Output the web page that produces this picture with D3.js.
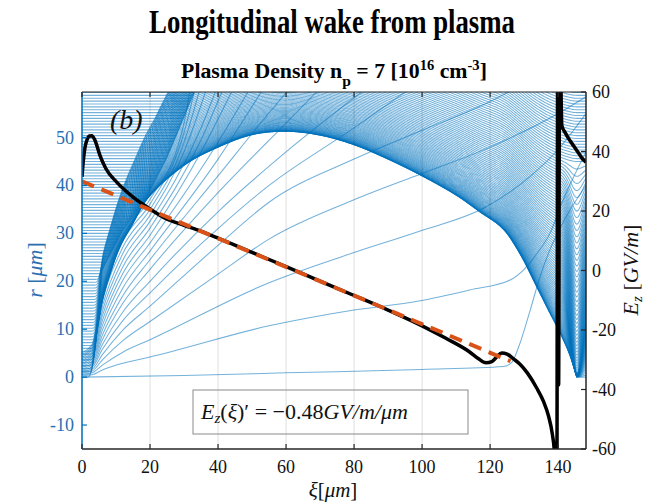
<!DOCTYPE html>
<html>
<head>
<meta charset="UTF-8">
<title>wake</title>
<script src="https://cdn.jsdelivr.net/npm/d3@7"></script>
<style>
  body { margin: 0; background: #fff; }
  text { font-family: "Liberation Serif", "Times New Roman", serif; }
</style>
</head>
<body>
<svg id="chart" width="661" height="502"></svg>
<script>
// ---- data ----
// on-axis Ez (right axis, GV/m)
const ezXi  = [0, 0.4, 0.9, 1.5, 2.2, 2.9, 3.8, 5.3, 7, 10.2, 15.1, 20, 24.9, 30, 34.7, 40, 50, 60, 70, 80, 90, 100, 107, 114, 116.5, 118.8, 120.5, 122, 123.4, 125, 127, 128.8, 131, 133.7, 135.7, 137.2, 138.3, 138.9, 139.3, 139.6, 139.9, 140.15, 140.45, 141.1, 142, 143, 144.5, 146, 147, 148.2];
const ezVal = [31.5, 37, 41.5, 44, 45.2, 45.3, 43.8, 38.6, 34.3, 29.7, 24.6, 20.7, 17.3, 15.2, 13.3, 10.9, 6.1, 1.3, -3.6, -8.4, -13.3, -18.6, -22.8, -27.4, -29.6, -31, -30.6, -29, -27.7, -28.1, -29.8, -31.5, -34.5, -39.5, -44, -49, -55, -61, -85, -85, 85, -38.5, 85, 48.7, 46.5, 44.5, 42, 39.5, 37.8, 36.4];

// linear fit of Ez
const fitXi  = [0, 126];
const fitVal = [30, -30.5];

// bubble boundary (innermost sheath electron), r in um
const boundXi = [1.5, 3, 4.5, 6, 8, 11, 14.5, 19.5, 30, 40, 50, 60, 70, 80, 90, 100, 110, 117, 124, 129, 133.7, 137.5, 140.6, 143.5, 145.5];
const boundR  = [0, 4, 10, 16, 21, 27, 31.5, 37.5, 44.2, 48, 50.6, 51.3, 50.5, 48.5, 45.5, 42, 38, 34.5, 30.8, 25.5, 18.9, 13.5, 9.2, 4.5, 0];

// where outer electrons get pushed (front band)
const onsetR  = [0, 20, 30, 37.5, 45, 50, 62];
const onsetXi = [1.5, 3.5, 11, 18.5, 24, 27, 34];

// initial radii of sheath electrons
const layerR0 = d3.range(0, 60, 0.6);

// electrons crossing the bubble
const fanLines = [
  [[0,0],[30,0.35],[60,0.9],[100,1.6],[124,2.2],[126.5,3.2],[128.5,6.5],[131.8,14],[134.7,21],[137.6,26.6],[142,33],[148.2,40]],
  [[0,0.3],[3,0.5],[6,1.5],[12,2.9],[20,4.2],[55,10.7],[80,14],[99,15.9],[114,18.2],[126,20.3],[130,22.5],[134,26],[137.6,30],[141.5,37],[148.2,47]],
  [[0,0.6],[3,0.9],[6,2.5],[12,5.2],[20,7.8],[55,19.7],[80,26],[99,30.4],[119,35.6],[131.8,41.9],[140,47.5],[148.2,55]],
  [[0,0.9],[3,1.3],[6,3.6],[12,7.6],[20,11.6],[40,21.5],[55,28.8],[80,37],[100,42.5],[120,48],[140,55],[148.2,58.5]],
  [[0,1.2],[3,1.7],[6,4.7],[12,9.8],[20,14.8],[40,27.5],[55,36.5],[80,45.5],[100,51.5],[120,57.5],[128,60.5]],
  [[0,1.5],[3,2.1],[6,5.8],[12,11.8],[20,17.6],[40,31],[55,40],[80,52],[98,61]],
  [[0,1.8],[3,2.5],[6,6.8],[12,13.6],[20,20],[40,34.5],[60,47],[85,61]],
  [[0,2.1],[3,2.9],[6,7.8],[12,15.4],[20,22.5],[40,38.5],[60,53],[71,61]],
  [[0,2.4],[3,3.3],[6,8.8],[12,17],[20,24.5],[40,42],[56,56],[62,61]],
  [[0,2.7],[3,3.7],[6,9.8],[12,18.6],[20,26.3],[40,45.5],[54,61]],
  [[0,3.0],[3,4.1],[6,10.8],[12,20.2],[20,28],[40,49],[50,61]],
  [[0,3.3],[3,4.5],[6,11.8],[12,21.6],[20,29.6],[35,47],[45,61]],
  [[0,3.6],[3,4.9],[6,12.8],[12,23],[20,31.1],[35,49.5],[42,61]],
  [[0,3.9],[3,5.3],[6,13.8],[12,24.4],[20,32.5],[35,52],[40,61]],
  [[0,4.2],[3,5.7],[6,14.8],[12,25.8],[20,33.8],[30,47],[37,61]],
  [[0,4.5],[3,6.1],[6,15.8],[12,27.1],[20,35],[30,49],[35,61]],
  [[0,4.8],[3,6.5],[6,16.8],[12,28.3],[20,36.1],[30,51],[33.5,61]],
  [[0,5.1],[3,6.9],[6,17.8],[12,29.5],[20,37.1],[30,53],[32,61]]
];

const xTicks  = [0, 20, 40, 60, 80, 100, 120, 140];
const rTicks  = [-10, 0, 10, 20, 30, 40, 50];
const ezTicks = [-60, -40, -20, 0, 20, 40, 60];

// ---- layout ----
const svg = d3.select("#chart");
const plotL = 82, plotR = 586, plotT = 92, plotB = 449;
const blue = "#0072BD", dark = "#262626";

const x  = d3.scaleLinear().domain([0, 148.2]).range([plotL, plotR]);
const yL = d3.scaleLinear().domain([-15, 59.5]).range([plotB, plotT]);
const yR = d3.scaleLinear().domain([-60, 60]).range([plotB, plotT]);

svg.append("defs").append("clipPath").attr("id", "plot")
  .append("rect").attr("x", plotL).attr("y", plotT)
  .attr("width", plotR - plotL).attr("height", plotB - plotT);

// smooth interpolation through read points
function smoothInterp(xs, ys) {
  const n = xs.length, m = [];
  for (let i = 0; i < n; i++) {
    if (i === 0) m.push((ys[1] - ys[0]) / (xs[1] - xs[0]));
    else if (i === n - 1) m.push((ys[n - 1] - ys[n - 2]) / (xs[n - 1] - xs[n - 2]));
    else m.push((ys[i + 1] - ys[i - 1]) / (xs[i + 1] - xs[i - 1]));
  }
  return v => {
    if (v <= xs[0]) return ys[0];
    if (v >= xs[n - 1]) return ys[n - 1];
    const i = d3.bisectRight(xs, v) - 1;
    const h = xs[i + 1] - xs[i], t = (v - xs[i]) / h, t2 = t * t, t3 = t2 * t;
    return (2 * t3 - 3 * t2 + 1) * ys[i] + (t3 - 2 * t2 + t) * h * m[i]
         + (-2 * t3 + 3 * t2) * ys[i + 1] + (t3 - t2) * h * m[i + 1];
  };
}
const bound = smoothInterp(boundXi, boundR);
const onset = d3.scaleLinear().domain(onsetR).range(onsetXi).clamp(true);
const focus = d3.scaleLinear().domain([18, 45]).range([0.97, 0]).clamp(true);

// trajectory of a sheath electron starting at radius h
const xiGrid = d3.range(0, 148.45, 0.25);
function layer(h) {
  const xo = onset(h), a = focus(h);
  return xiGrid.map(xi => {
    const t = Math.max(0, Math.min(1, (xi - xo) / 3));
    const s = t * t * (3 - 2 * t);
    const b = Math.max(0, bound(xi)) * s;
    const c = 1 - a * Math.exp(-Math.pow((xi - 145.5) / 2.5, 2));
    return [xi, Math.sqrt(h * h * c * c + b * b)];
  });
}

const g = svg.append("g").attr("clip-path", "url(#plot)");
const lineR = d3.line().x(d => x(d[0])).y(d => yL(d[1]));

g.selectAll("path.layer").data(layerR0).join("path")
  .attr("class", "layer")
  .attr("d", h => lineR(layer(h)))
  .attr("fill", "none").attr("stroke", blue)
  .attr("stroke-opacity", 0.55).attr("stroke-width", 1.05);

g.selectAll("path.fan").data(fanLines).join("path")
  .attr("class", "fan")
  .attr("d", d3.line().x(d => x(d[0])).y(d => yL(d[1])).curve(d3.curveMonotoneX))
  .attr("fill", "none").attr("stroke", blue)
  .attr("stroke-opacity", 0.55).attr("stroke-width", 1.05);

// vertical grid
svg.append("g").selectAll("line").data(xTicks).join("line")
  .attr("x1", d => x(d)).attr("x2", d => x(d))
  .attr("y1", plotT).attr("y2", plotB)
  .attr("stroke", "#000").attr("stroke-opacity", 0.13).attr("stroke-width", 1);

// Ez and fit
g.append("path")
  .datum(ezXi.map((v, i) => [v, ezVal[i]]))
  .attr("d", d3.line().x(d => x(d[0])).y(d => yR(d[1])).curve(d3.curveMonotoneX))
  .attr("fill", "none").attr("stroke", "#000").attr("stroke-width", 3.5);

g.append("path")
  .datum(fitXi.map((v, i) => [v, fitVal[i]]))
  .attr("d", d3.line().x(d => x(d[0])).y(d => yR(d[1])))
  .attr("fill", "none").attr("stroke", "#D95319").attr("stroke-width", 4)
  .attr("stroke-dasharray", "13,8");

// ---- axes ----
const axes = svg.append("g");
axes.append("line").attr("x1", plotL).attr("x2", plotR).attr("y1", plotB).attr("y2", plotB)
  .attr("stroke", dark).attr("stroke-width", 1.5);
axes.append("line").attr("x1", plotL).attr("x2", plotR).attr("y1", plotT).attr("y2", plotT)
  .attr("stroke", dark).attr("stroke-width", 1.2);
axes.append("line").attr("x1", plotL).attr("x2", plotL).attr("y1", plotT).attr("y2", plotB)
  .attr("stroke", blue).attr("stroke-width", 1.5);
axes.append("line").attr("x1", plotR).attr("x2", plotR).attr("y1", plotT).attr("y2", plotB)
  .attr("stroke", dark).attr("stroke-width", 1.5);

xTicks.forEach(t => {
  axes.append("line").attr("x1", x(t)).attr("x2", x(t)).attr("y1", plotB).attr("y2", plotB - 5)
    .attr("stroke", dark).attr("stroke-width", 1.2);
  axes.append("line").attr("x1", x(t)).attr("x2", x(t)).attr("y1", plotT).attr("y2", plotT + 5)
    .attr("stroke", dark).attr("stroke-width", 1.2);
  axes.append("text").attr("x", x(t)).attr("y", 473).attr("text-anchor", "middle")
    .attr("font-size", 18).attr("fill", "#111").text(t);
});
rTicks.forEach(t => {
  axes.append("line").attr("x1", plotL).attr("x2", plotL + 5).attr("y1", yL(t)).attr("y2", yL(t))
    .attr("stroke", blue).attr("stroke-width", 1.2);
  axes.append("text").attr("x", 74).attr("y", yL(t) + 6).attr("text-anchor", "end")
    .attr("font-size", 18).attr("fill", "#2a6fb3").text(t);
});
ezTicks.forEach(t => {
  axes.append("line").attr("x1", plotR).attr("x2", plotR - 5).attr("y1", yR(t)).attr("y2", yR(t))
    .attr("stroke", dark).attr("stroke-width", 1.2);
  axes.append("text").attr("x", 592).attr("y", yR(t) + 6).attr("text-anchor", "start")
    .attr("font-size", 18).attr("fill", "#111").text(t);
});

// axis labels
const xl = svg.append("text").attr("x", 333).attr("y", 497).attr("text-anchor", "middle")
  .attr("font-size", 21).attr("fill", "#111");
xl.append("tspan").attr("font-style", "italic").text("ξ");
xl.append("tspan").text("[");
xl.append("tspan").attr("font-style", "italic").text("μm");
xl.append("tspan").text("]");

const rl = svg.append("text").attr("transform", "translate(42,270) rotate(-90)")
  .attr("text-anchor", "middle").attr("font-size", 22).attr("fill", "#2a6fb3");
rl.append("tspan").attr("font-style", "italic").text("r");
rl.append("tspan").text(" [");
rl.append("tspan").attr("font-style", "italic").text("μm");
rl.append("tspan").text("]");

const el = svg.append("text").attr("transform", "translate(638,270) rotate(-90)")
  .attr("text-anchor", "middle").attr("font-size", 22).attr("fill", "#111");
el.append("tspan").attr("font-style", "italic").text("E");
el.append("tspan").attr("font-style", "italic").attr("font-size", 15).attr("dy", 4).text("z");
el.append("tspan").attr("dy", -4).text(" [");
el.append("tspan").attr("font-style", "italic").text("GV/m");
el.append("tspan").text("]");

// panel tag
svg.append("text").attr("x", 110).attr("y", 129).attr("font-size", 28)
  .attr("font-style", "italic").attr("fill", "#111").text("(b)");

// fit annotation box
svg.append("rect").attr("x", 193).attr("y", 390).attr("width", 275).attr("height", 44)
  .attr("fill", "none").attr("stroke", "#8a8a8a").attr("stroke-width", 1);
const ft = svg.append("text").attr("x", 201).attr("y", 419).attr("font-size", 22).attr("fill", "#111");
ft.append("tspan").attr("font-style", "italic").text("E");
ft.append("tspan").attr("font-style", "italic").attr("font-size", 15).attr("dy", 4).text("z");
ft.append("tspan").attr("dy", -4).text("(");
ft.append("tspan").attr("font-style", "italic").text("ξ");
ft.append("tspan").text(")′ = −0.48");
ft.append("tspan").attr("font-style", "italic").text("GV/m/μm");

// titles, squeezed to the width seen in the figure
function fitWidth(sel, cx, y, w) {
  const bw = sel.node().getBBox().width;
  sel.attr("transform", `translate(${cx},${y}) scale(${w / bw},1)`);
}
const t1 = svg.append("text").attr("text-anchor", "middle").attr("font-size", 34)
  .attr("font-weight", "bold").attr("fill", "#000").text("Longitudinal wake from plasma");
fitWidth(t1, 332, 33, 366);

const t2 = svg.append("text").attr("text-anchor", "middle").attr("font-size", 21)
  .attr("font-weight", "bold").attr("fill", "#000");
t2.append("tspan").text("Plasma Density n");
t2.append("tspan").attr("font-size", 15).attr("dy", 8).text("p");
t2.append("tspan").attr("dy", -8).text(" = 7 [10");
t2.append("tspan").attr("font-size", 14).attr("dy", -8).text("16");
t2.append("tspan").attr("dy", 8).text(" cm");
t2.append("tspan").attr("font-size", 14).attr("dy", -8).text("-3");
t2.append("tspan").attr("dy", 8).text("]");
fitWidth(t2, 334, 78, 306);
</script>
</body>
</html>
